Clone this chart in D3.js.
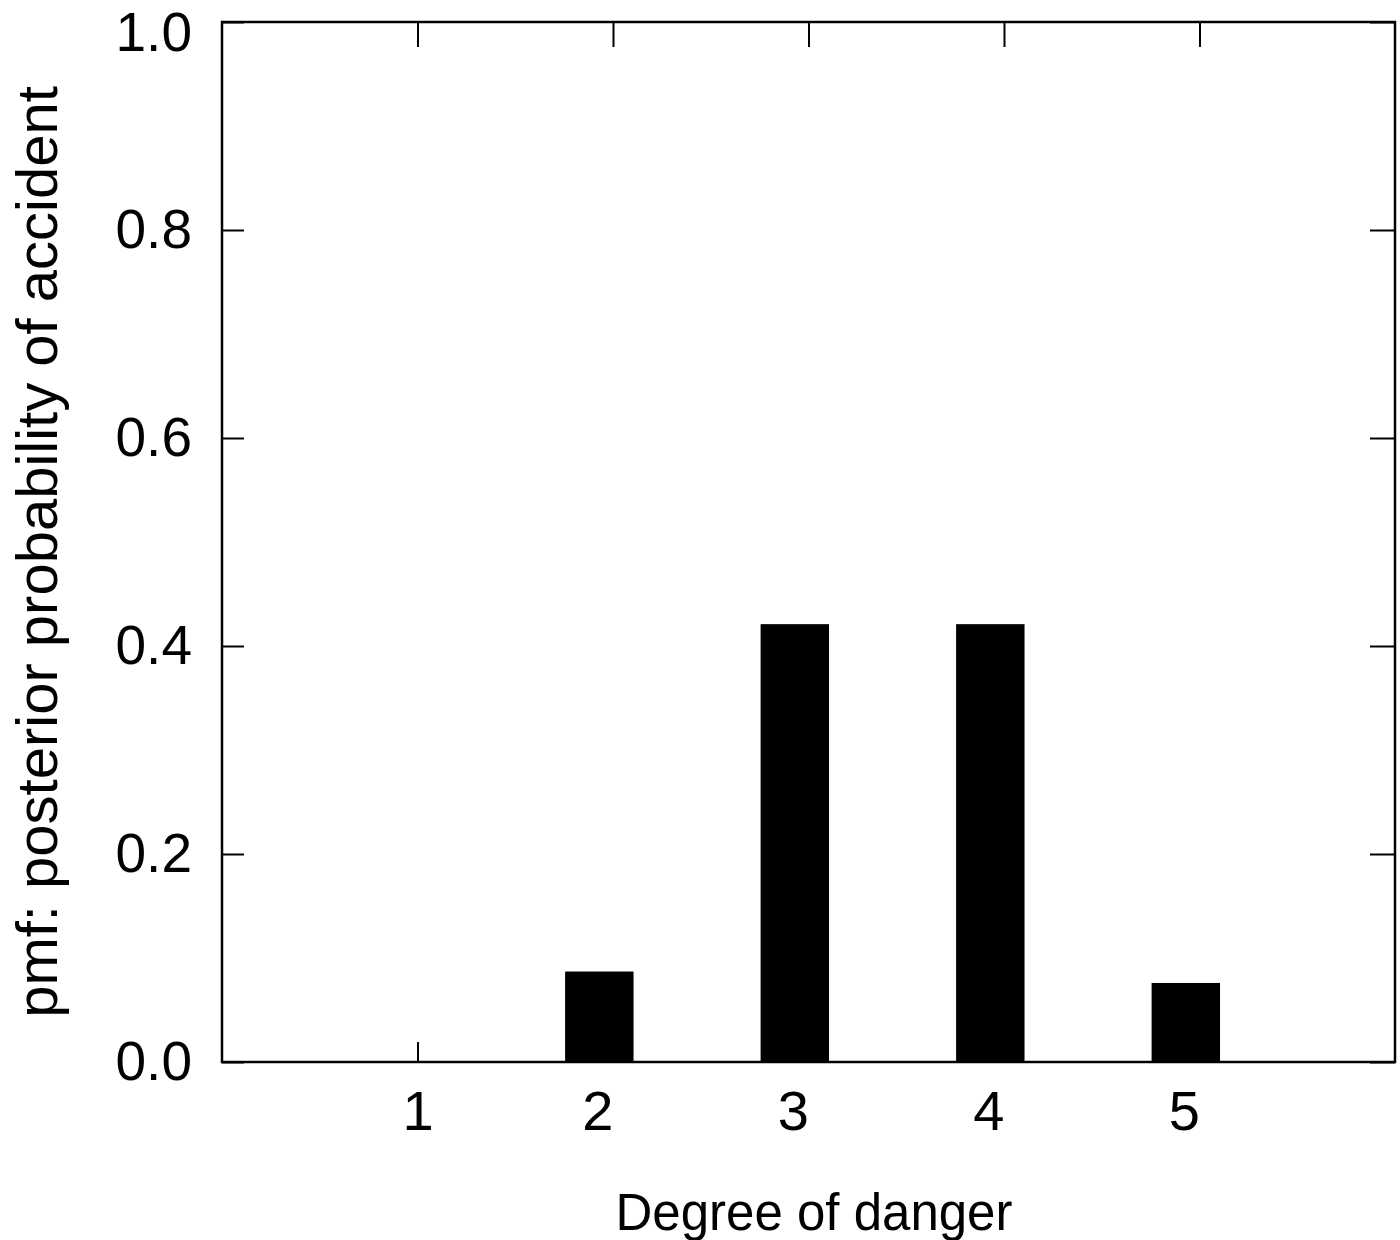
<!DOCTYPE html>
<html>
<head>
<meta charset="utf-8">
<script src="https://cdn.jsdelivr.net/npm/d3@7"></script>
<style>
  body { margin: 0; background: #fff; }
  svg { display: block; font-family: "Liberation Sans", Arial, sans-serif; }
</style>
</head>
<body>
<div id="graph"></div>
<script>
// data
const dangerLevels = [1, 2, 3, 4, 5];
const pmfValues = [0.0, 0.087, 0.421, 0.421, 0.076];
const yTickValues = [0.0, 0.2, 0.4, 0.6, 0.8, 1.0];
const xTitle = "Degree of danger";
const yTitle = "pmf: posterior probability of accident";

const W = 1400, H = 1240;
const margin = { top: 22, right: 5, bottom: 178, left: 222 };
const w = W - margin.left - margin.right;
const h = H - margin.top - margin.bottom;

// bars in the scan sit a bit left of their tick
const barLeft = -0.245, barRight = 0.105, labelShift = -0.08;

const svg = d3.select("div#graph")
  .append("svg")
  .attr("width", W)
  .attr("height", H);

const g = svg.append("g")
  .attr("transform", "translate(" + margin.left + "," + margin.top + ")");

const x = d3.scaleLinear().domain([0, 6]).range([0, w]);
const y = d3.scaleLinear().domain([0, 1]).range([h, 0]);

// bars
g.selectAll("rect.bar")
  .data(dangerLevels)
  .enter()
  .append("rect")
  .attr("class", "bar")
  .attr("x", d => x(d + barLeft))
  .attr("width", d => x(d + barRight) - x(d + barLeft))
  .attr("y", (d, i) => y(pmfValues[i]))
  .attr("height", (d, i) => h - y(pmfValues[i]))
  .attr("fill", "#000");

// left axis, ticks inward
const yAxis = g.append("g")
  .call(d3.axisLeft(y).tickValues(yTickValues).tickFormat(d3.format(".1f"))
    .tickSizeInner(-22).tickSizeOuter(0).tickPadding(30));
yAxis.selectAll("text")
  .style("font-size", "55px")
  .attr("fill", "#000")
  .attr("dy", d => d === 1 ? "0.52em" : "0.32em");  // keep top label inside the page

// right axis, ticks inward
g.append("g")
  .attr("transform", "translate(" + w + ",0)")
  .call(d3.axisRight(y).tickValues(yTickValues).tickFormat("")
    .tickSizeInner(-25).tickSizeOuter(0));

// top axis, ticks downward
g.append("g")
  .call(d3.axisTop(x).tickValues(dangerLevels).tickFormat("")
    .tickSizeInner(-25).tickSizeOuter(0));

// bottom axis, ticks upward (mostly hidden by the bars)
const xAxis = g.append("g")
  .attr("transform", "translate(0," + h + ")")
  .call(d3.axisBottom(x).tickValues(dangerLevels).tickFormat(d3.format("d"))
    .tickSizeInner(-20).tickSizeOuter(0));
xAxis.selectAll("text")
  .attr("y", 28)
  .attr("dx", d => d === 1 ? 0 : x(labelShift) - x(0))
  .style("font-size", "56px")
  .attr("fill", "#000");

// bars above the bottom tick marks
g.selectAll("rect.bar").raise();

// frame
g.append("rect")
  .attr("x", 0).attr("y", 0)
  .attr("width", w).attr("height", h)
  .attr("fill", "none")
  .attr("stroke", "#000")
  .attr("stroke-width", 2.5);

svg.selectAll(".domain").remove();
svg.selectAll(".tick line").attr("stroke", "#000").attr("stroke-width", 2);

// titles
svg.append("text")
  .attr("x", 814)
  .attr("y", 1230)
  .attr("text-anchor", "middle")
  .style("font-size", "51px")
  .text(xTitle);

svg.append("text")
  .attr("transform", "translate(57,552) rotate(-90)")
  .attr("text-anchor", "middle")
  .style("font-size", "58px")
  .text(yTitle);
</script>
</body>
</html>
